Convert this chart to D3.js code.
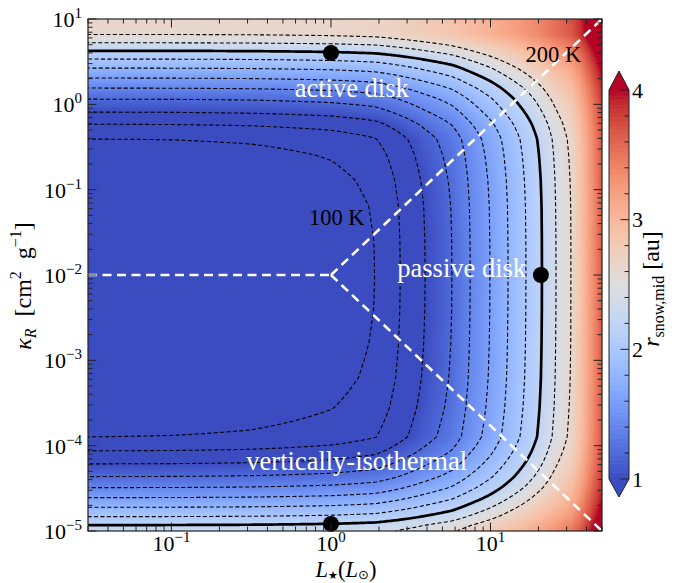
<!DOCTYPE html>
<html><head><meta charset="utf-8">
<script src="https://cdn.jsdelivr.net/npm/d3@7"></script>
<style>body{margin:0;background:#fff}</style>
</head><body>
<svg id="chart" width="683" height="583"></svg>
<script>
// ---------------- data ----------------
// r_snow,mid (au) set by accretion heating, read along the left edge, vs log10(kappa_R)
const kappaLogNodes = [-5.0, -4.93, -4.833, -4.723, -4.61, -4.493, -4.364, -4.215, -4.063, -3.895, -3.55, -3.2, -2.8, -2.4, -2.0, -1.6, -1.2, -0.887, -0.6, -0.406, -0.23, -0.09, 0.0625, 0.192, 0.309, 0.426, 0.531, 0.628, 0.722, 0.816, 1.0];
const rKappa        = [2.3, 2.2, 2.0, 1.8, 1.6, 1.4, 1.2, 1.0, 0.8, 0.595, 0.47, 0.385, 0.335, 0.308, 0.3, 0.307, 0.335, 0.40, 0.5, 0.595, 0.8, 1.0, 1.2, 1.4, 1.6, 1.8, 2.0, 2.2, 2.4, 2.6, 2.64];
// r_snow,mid (au) set by stellar irradiation, read along kappa=1e-2, vs log10(L*)
const lumLogNodes = [-1.523, -1.0, -0.5, 0.0, 0.276, 0.433, 0.590, 0.759, 0.872, 0.997, 1.110, 1.222, 1.323, 1.410, 1.505, 1.56, 1.62, 1.699];
const rLum        = [0.06, 0.11, 0.2, 0.36, 0.52, 0.74, 0.954, 1.162, 1.367, 1.572, 1.775, 1.977, 2.18, 2.38, 2.583, 2.834, 3.186, 3.638];
// contour levels
const dashedLevels = [0.6, 0.8, 1.0, 1.2, 1.4, 1.6, 1.8, 2.0, 2.4, 2.6];
const thickLevel = [2.2];
// regime boundaries (L*, kappa)
const boundaries = [
  [[0.03, 1e-2], [1, 1e-2]],
  [[1, 1e-2], [50, 10]],
  [[1, 1e-2], [50, 1e-5]]
];
// black markers (L*, kappa)
const markers = [[1, 4.0], [20.7, 1e-2], [1, 1.21e-5]];
// annotations (L*, kappa, text)
const regimeLabels = [[1.35, 1.22, "active disk"], [6.6, 9.6e-3, "passive disk"], [1.45, 5.2e-5, "vertically-isothermal"]];
const tempLabels = [[1.087, 0.0386, "100 K"], [24.8, 3.16, "200 K"]];
// ticks
const xMajorExp = [-1, 0, 1];
const yMajorExp = [-5, -4, -3, -2, -1, 0, 1];
const cbTicks = [1, 2, 3, 4];
// coolwarm colormap samples
const coolwarm = [[59,76,192],[68,90,204],[77,104,215],[87,117,225],[98,130,234],[108,142,241],[119,154,247],[130,165,251],[141,176,254],[152,185,255],[163,194,255],[174,201,253],[184,208,249],[194,213,244],[204,217,238],[213,219,230],[221,221,221],[229,216,209],[236,211,197],[241,204,184],[245,196,172],[247,187,160],[247,177,148],[247,166,135],[244,154,123],[241,141,111],[236,127,99],[229,112,88],[222,96,77],[213,80,66],[203,62,56],[192,40,47],[180,4,38]];

// ---------------- layout ----------------
const M = {l: 88, r: 602, t: 19, b: 531};
const x = d3.scaleLog().domain([0.03, 50]).range([M.l, M.r]);
const y = d3.scaleLog().domain([1e-5, 10]).range([M.b, M.t]);
const vmin = 1, vmax = 4;
const color = d3.scaleLinear()
  .domain(coolwarm.map((c, i) => vmin + (vmax - vmin) * i / (coolwarm.length - 1)))
  .range(coolwarm.map(c => d3.rgb(c[0], c[1], c[2]).toString()))
  .interpolate(d3.interpolateRgb).clamp(true);

const svg = d3.select("#chart");
const FONT = "'Liberation Serif', 'Times New Roman', serif";
svg.attr("font-family", FONT);
svg.append("rect").attr("width", 683).attr("height", 583).attr("fill", "#fff");
svg.append("defs").append("clipPath").attr("id", "clip").append("rect")
  .attr("x", M.l).attr("y", M.t).attr("width", M.r - M.l).attr("height", M.b - M.t);

// ---------------- field grid ----------------
const rK = d3.scaleLinear().domain(kappaLogNodes).range(rKappa).clamp(true);
const rL = d3.scaleLinear().domain(lumLogNodes).range(rLum).clamp(true);
const lx0 = Math.log10(0.03) - 0.06, lx1 = Math.log10(50) + 0.06;
const ly0 = 1.08, ly1 = -5.08;
const nx = 320, ny = 320;
const values = new Float64Array(nx * ny);
for (let j = 0; j < ny; j++) {
  const a = rK(ly0 + (j + 0.5) * (ly1 - ly0) / ny);
  for (let i = 0; i < nx; i++) {
    const b = rL(lx0 + (i + 0.5) * (lx1 - lx0) / nx);
    values[j * nx + i] = Math.sqrt(a * a + b * b);
  }
}
const proj = d3.geoTransform({point(u, v) {
  const ll = lx0 + u * (lx1 - lx0) / nx, lk = ly0 + v * (ly1 - ly0) / ny;
  this.stream.point(x(Math.pow(10, ll)), y(Math.pow(10, lk)));
}});
const path = d3.geoPath(proj);

const field = svg.append("g").attr("clip-path", "url(#clip)");
field.append("rect").attr("x", M.l).attr("y", M.t).attr("width", M.r - M.l).attr("height", M.b - M.t).attr("fill", color(vmin));
const step = 0.02;
const bandThr = d3.range(vmin, vmax + 1e-9, step);
d3.contours().size([nx, ny]).thresholds(bandThr)(values).forEach(c => {
  field.append("path").attr("d", path(c)).attr("fill", color(Math.min(vmax, c.value + step / 2)));
});

// contour lines
d3.contours().size([nx, ny]).thresholds(dashedLevels)(values).forEach(c => {
  field.append("path").attr("d", path(c)).attr("fill", "none").attr("stroke", "#000")
    .attr("stroke-width", 1.1).attr("stroke-dasharray", "4,2.4");
});
d3.contours().size([nx, ny]).thresholds(thickLevel)(values).forEach(c => {
  field.append("path").attr("d", path(c)).attr("fill", "none").attr("stroke", "#000")
    .attr("stroke-width", 2.7);
});

// regime boundaries
const line = d3.line().x(d => x(d[0])).y(d => y(d[1]));
boundaries.forEach(b => {
  field.append("path").attr("d", line(b)).attr("fill", "none").attr("stroke", "#fff")
    .attr("stroke-width", 2.6).attr("stroke-dasharray", "9,5.5");
});

// markers
svg.selectAll("circle.m").data(markers).join("circle").attr("class", "m")
  .attr("cx", d => x(d[0])).attr("cy", d => y(d[1])).attr("r", 8).attr("fill", "#000");

// labels
svg.selectAll("text.reg").data(regimeLabels).join("text").attr("class", "reg")
  .attr("x", d => x(d[0])).attr("y", d => y(d[1])).attr("text-anchor", "middle")
  .attr("font-size", 26.5).attr("fill", "#fff").text(d => d[2]);
svg.selectAll("text.tmp").data(tempLabels).join("text").attr("class", "tmp")
  .attr("x", d => x(d[0])).attr("y", d => y(d[1])).attr("text-anchor", "middle")
  .attr("font-size", 22.5).attr("fill", "#000").text(d => d[2]);

// ---------------- axes ----------------
const ax = svg.append("g").attr("stroke", "#222").attr("stroke-width", 1);
const majL = 8.5, minL = 4.5;
function minorTicks(lo, hi) {
  const out = [];
  for (let e = Math.floor(Math.log10(lo)) ; e <= Math.ceil(Math.log10(hi)); e++)
    for (let k = 2; k <= 9; k++) { const v = k * Math.pow(10, e); if (v >= lo * 0.999 && v <= hi * 1.001) out.push(v); }
  return out;
}
const xMinor = minorTicks(0.03, 50), yMinor = minorTicks(1e-5, 10);
const xMajor = xMajorExp.map(e => Math.pow(10, e)), yMajor = yMajorExp.map(e => Math.pow(10, e));
[[xMajor, majL], [xMinor, minL]].forEach(([arr, len]) => arr.forEach(v => {
  ax.append("line").attr("x1", x(v)).attr("x2", x(v)).attr("y1", M.b).attr("y2", M.b - len);
  ax.append("line").attr("x1", x(v)).attr("x2", x(v)).attr("y1", M.t).attr("y2", M.t + len);
}));
[[yMajor, majL], [yMinor, minL]].forEach(([arr, len]) => arr.forEach(v => {
  ax.append("line").attr("y1", y(v)).attr("y2", y(v)).attr("x1", M.l).attr("x2", M.l + len);
  ax.append("line").attr("y1", y(v)).attr("y2", y(v)).attr("x1", M.r).attr("x2", M.r - len);
}));
svg.append("rect").attr("x", M.l).attr("y", M.t).attr("width", M.r - M.l).attr("height", M.b - M.t)
  .attr("fill", "none").attr("stroke", "#222").attr("stroke-width", 1.2);

function expLabel(t, e) {
  t.append("tspan").text("10");
  t.append("tspan").attr("font-size", 15).attr("dy", -9).text(e < 0 ? "\u2212" + (-e) : String(e));
}
xMajorExp.forEach(e => {
  const t = svg.append("text").attr("x", x(Math.pow(10, e))).attr("y", 551).attr("text-anchor", "middle").attr("font-size", 22);
  expLabel(t, e);
});
yMajorExp.forEach(e => {
  const t = svg.append("text").attr("x", 82).attr("y", y(Math.pow(10, e)) + 8).attr("text-anchor", "end").attr("font-size", 22);
  expLabel(t, e);
});

// axis titles
const xl = svg.append("text").attr("x", 346).attr("y", 577).attr("text-anchor", "middle").attr("font-size", 22.5);
xl.append("tspan").attr("font-style", "italic").text("L");
xl.append("tspan").attr("font-size", 11).attr("dy", 2).attr("font-family", "'DejaVu Sans'").text("\u2605");
xl.append("tspan").attr("dy", -2).text("(");
xl.append("tspan").attr("font-style", "italic").text("L");
xl.append("tspan").attr("font-size", 13).attr("dy", 2).attr("font-family", "'DejaVu Sans'").text("\u2299");
xl.append("tspan").attr("dy", -2).text(")");

const yl = svg.append("text").attr("transform", "translate(31,286) rotate(-90)").attr("text-anchor", "middle").attr("font-size", 24);
yl.append("tspan").attr("font-style", "italic").text("\u03BA");
yl.append("tspan").attr("font-style", "italic").attr("font-size", 16).attr("dy", 5).text("R");
yl.append("tspan").attr("dy", -5).text("\u2002[cm");
yl.append("tspan").attr("font-size", 16).attr("dy", -10).text("2");
yl.append("tspan").attr("dy", 10).text("\u2002g");
yl.append("tspan").attr("font-size", 16).attr("dy", -10).text("\u22121");
yl.append("tspan").attr("dy", 10).text("]");

// ---------------- colorbar ----------------
const cb = {x: 609, w: 20};
const cy = d3.scaleLinear().domain([vmin, vmax]).range([479, 90]);
const cbg = svg.append("g");
const cstep = 0.01;
d3.range(vmin, vmax - 1e-9, cstep).forEach(v => {
  cbg.append("rect").attr("x", cb.x).attr("width", cb.w).attr("y", cy(v + cstep) - 0.3)
    .attr("height", cy(v) - cy(v + cstep) + 0.6).attr("fill", color(v + cstep / 2));
});
const tri = d3.line();
cbg.append("path").attr("d", tri([[cb.x, cy(vmax)], [cb.x + cb.w, cy(vmax)], [cb.x + cb.w / 2, cy(vmax) - 19]]) + "Z").attr("fill", color(vmax));
cbg.append("path").attr("d", tri([[cb.x, cy(vmin)], [cb.x + cb.w, cy(vmin)], [cb.x + cb.w / 2, cy(vmin) + 18]]) + "Z").attr("fill", color(vmin));
cbg.append("path").attr("d", tri([[cb.x, cy(vmax)], [cb.x + cb.w / 2, cy(vmax) - 19], [cb.x + cb.w, cy(vmax)], [cb.x + cb.w, cy(vmin)], [cb.x + cb.w / 2, cy(vmin) + 18], [cb.x, cy(vmin)]]) + "Z")
  .attr("fill", "none").attr("stroke", "#222").attr("stroke-width", 1);
const cbMinor = d3.range(vmin, vmax + 1e-9, 0.2).filter(v => Math.abs(v - Math.round(v)) > 1e-6);
cbMinor.forEach(v => cbg.append("line").attr("x1", cb.x + cb.w).attr("x2", cb.x + cb.w - minL).attr("y1", cy(v)).attr("y2", cy(v)).attr("stroke", "#222"));
cbTicks.forEach(v => {
  cbg.append("line").attr("x1", cb.x + cb.w).attr("x2", cb.x + cb.w - majL).attr("y1", cy(v)).attr("y2", cy(v)).attr("stroke", "#222");
  cbg.append("text").attr("x", cb.x + cb.w + 3).attr("y", cy(v) + 7.5).attr("font-size", 22).text(v);
});
const cl = svg.append("text").attr("transform", "translate(659,289) rotate(-90)").attr("text-anchor", "middle").attr("font-size", 24);
cl.append("tspan").attr("font-style", "italic").text("r");
cl.append("tspan").attr("font-size", 16).attr("dy", 5).text("snow,mid");
cl.append("tspan").attr("dy", -5).text(" [au]");
</script>
</body></html>
